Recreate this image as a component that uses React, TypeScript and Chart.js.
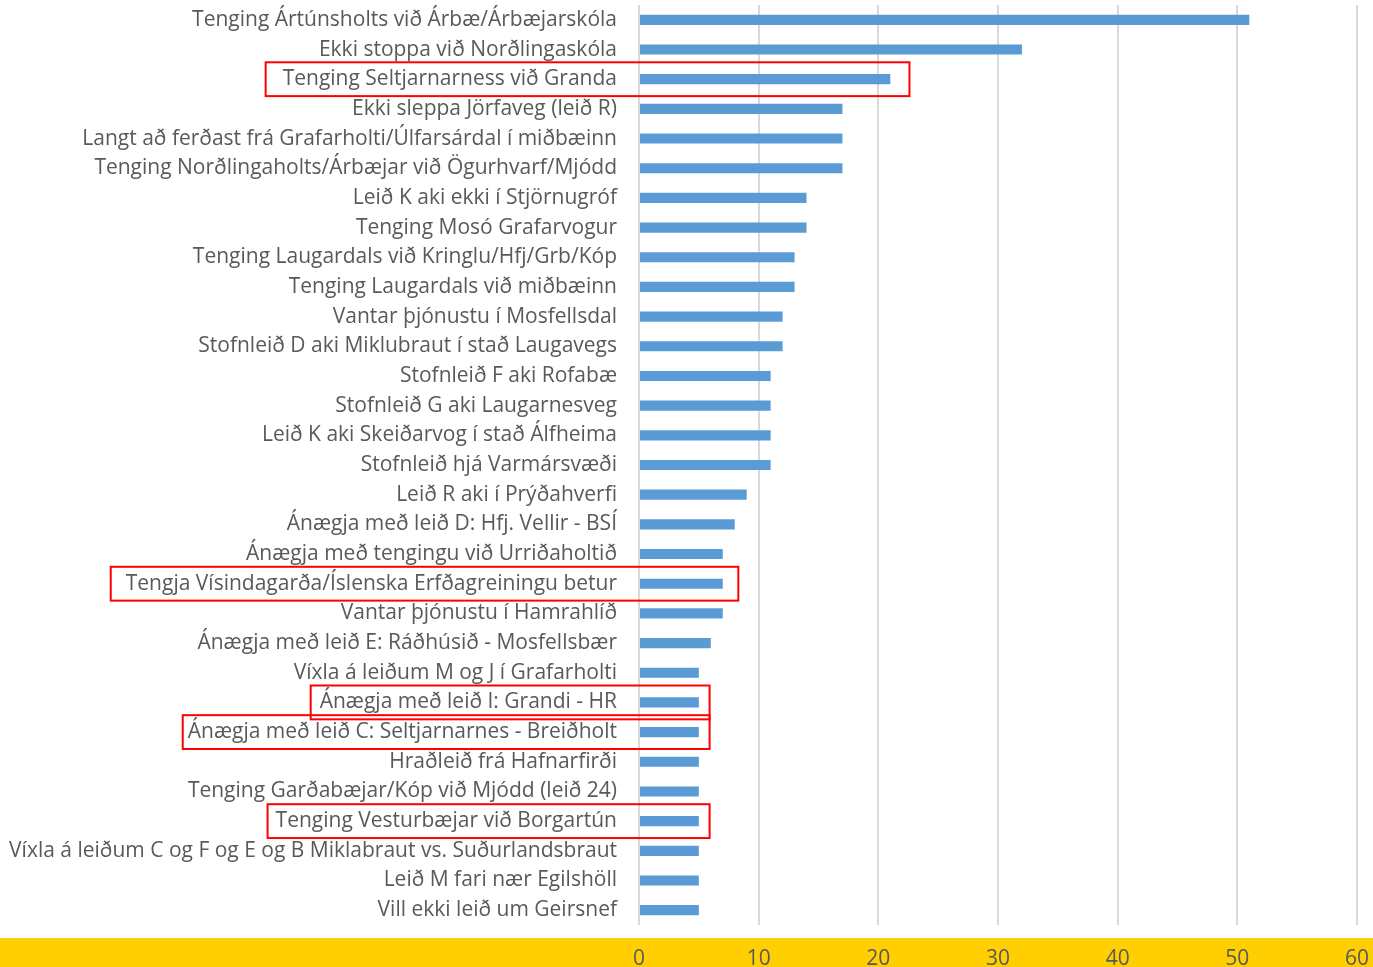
import React, { useEffect, useRef } from "react";
import { Chart, registerables } from "chart.js";

Chart.register(...registerables);

const categories: string[] = [
  "Tenging Ártúnsholts við Árbæ/Árbæjarskóla",
  "Ekki stoppa við Norðlingaskóla",
  "Tenging Seltjarnarness við Granda",
  "Ekki sleppa Jörfaveg (leið R)",
  "Langt að ferðast frá Grafarholti/Úlfarsárdal í miðbæinn",
  "Tenging Norðlingaholts/Árbæjar við Ögurhvarf/Mjódd",
  "Leið K aki ekki í Stjörnugróf",
  "Tenging Mosó Grafarvogur",
  "Tenging Laugardals við Kringlu/Hfj/Grb/Kóp",
  "Tenging Laugardals við miðbæinn",
  "Vantar þjónustu í Mosfellsdal",
  "Stofnleið D aki Miklubraut í stað Laugavegs",
  "Stofnleið F aki Rofabæ",
  "Stofnleið G aki Laugarnesveg",
  "Leið K aki Skeiðarvog í stað Álfheima",
  "Stofnleið hjá Varmársvæði",
  "Leið R aki í Prýðahverfi",
  "Ánægja með leið D: Hfj. Vellir - BSÍ",
  "Ánægja með tengingu við Urriðaholtið",
  "Tengja Vísindagarða/Íslenska Erfðagreiningu betur",
  "Vantar þjónustu í Hamrahlíð",
  "Ánægja með leið E: Ráðhúsið - Mosfellsbær",
  "Víxla á leiðum M og J í Grafarholti",
  "Ánægja með leið I: Grandi - HR",
  "Ánægja með leið C: Seltjarnarnes - Breiðholt",
  "Hraðleið frá Hafnarfirði",
  "Tenging Garðabæjar/Kóp við Mjódd (leið 24)",
  "Tenging Vesturbæjar við Borgartún",
  "Víxla á leiðum C og F og E og B Miklabraut vs. Suðurlandsbraut",
  "Leið M fari nær Egilshöll",
  "Vill ekki leið um Geirsnef",
];

const values: number[] = [
  51, 32, 21, 17, 17, 17, 14, 14, 13, 13, 12, 12, 11, 11, 11, 11, 9, 8, 7, 7, 7, 6, 5, 5, 5, 5, 5, 5, 5, 5, 5,
];

const xTicks: number[] = [0, 10, 20, 30, 40, 50, 60];

// Highlighted (red-boxed) categories and how far right each box reaches (in axis units)
const highlighted: string[] = [
  "Tenging Seltjarnarness við Granda",
  "Tengja Vísindagarða/Íslenska Erfðagreiningu betur",
  "Ánægja með leið I: Grandi - HR",
  "Ánægja með leið C: Seltjarnarnes - Breiðholt",
  "Tenging Vesturbæjar við Borgartún",
];
const highlightRight: number[] = [22.6, 8.3, 5.9, 5.9, 5.9];
const highlightLeftGap: number[] = [17, 15, 9, 5, 8];

const FONT = "'Open Sans'";
const FONT_SIZE = 21;
const TEXT = "#595959";
const LABEL_PAD = 22;

const bandPlugin = {
  id: "band",
  beforeDraw(chart: any) {
    const { ctx, width, height, chartArea } = chart;
    ctx.save();
    ctx.fillStyle = "#ffcf01";
    ctx.fillRect(0, chartArea.bottom + 13, width, height - chartArea.bottom - 13);
    ctx.restore();
  },
};

const boxPlugin = {
  id: "boxes",
  afterDraw(chart: any) {
    const { ctx } = chart;
    const x = chart.scales.x;
    const y = chart.scales.y;
    const band = (y.bottom - y.top) / categories.length;
    ctx.save();
    ctx.font = `${FONT_SIZE}px ${FONT}`;
    ctx.strokeStyle = "#ff0000";
    ctx.lineWidth = 2;
    highlighted.forEach((name, i) => {
      const idx = categories.indexOf(name);
      const cy = y.getPixelForValue(idx);
      const labelRight = x.left - LABEL_PAD;
      const w = ctx.measureText(name).width;
      const left = labelRight - w - highlightLeftGap[i];
      const right = x.getPixelForValue(highlightRight[i]);
      const h = band * 1.14;
      ctx.strokeRect(left, cy - h / 2, right - left, h);
    });
    ctx.restore();
  },
};

export default function App() {
  const ref = useRef<HTMLCanvasElement | null>(null);
  useEffect(() => {
    if (!ref.current) return;
    const chart = new Chart(ref.current, {
      type: "bar",
      data: {
        labels: categories,
        datasets: [
          {
            data: values,
            backgroundColor: "#5b9bd5",
            barPercentage: 0.9,
            categoryPercentage: 0.38,
          },
        ],
      },
      options: {
        indexAxis: "y",
        animation: false,
        responsive: false,
        maintainAspectRatio: false,
        layout: { padding: { top: 5, right: 16, left: 0, bottom: 0 } },
        plugins: { legend: { display: false }, tooltip: { enabled: false } },
        scales: {
          x: {
            min: 0,
            max: 60,
            afterBuildTicks: (s: any) => {
              s.ticks = xTicks.map((v) => ({ value: v }));
            },
            grid: { color: "#d9d9d9", lineWidth: 2, drawTicks: false },
            border: { display: false },
            ticks: {
              color: TEXT,
              font: { family: FONT, size: FONT_SIZE },
              padding: 21,
              maxRotation: 0,
            },
            afterFit: (s: any) => {
              s.height = 42;
              s.paddingLeft = 0;
              s.paddingRight = 0;
              s.paddingTop = 0;
              s.paddingBottom = 0;
            },
          },
          y: {
            grid: { display: false, drawTicks: false },
            border: { display: false },
            ticks: {
              autoSkip: false,
              color: TEXT,
              font: { family: FONT, size: FONT_SIZE },
              padding: LABEL_PAD,
            },
            afterFit: (s: any) => {
              s.width = 639;
              s.paddingLeft = 0;
              s.paddingRight = 0;
              s.paddingTop = 0;
              s.paddingBottom = 0;
            },
          },
        },
      },
      plugins: [bandPlugin, boxPlugin],
    });
    return () => chart.destroy();
  }, []);
  return (
    <div style={{ position: "absolute", left: 0, top: 0, width: 1373, height: 967, background: "#fff" }}>
      <canvas ref={ref} width={1373} height={967} style={{ display: "block" }} />
    </div>
  );
}
